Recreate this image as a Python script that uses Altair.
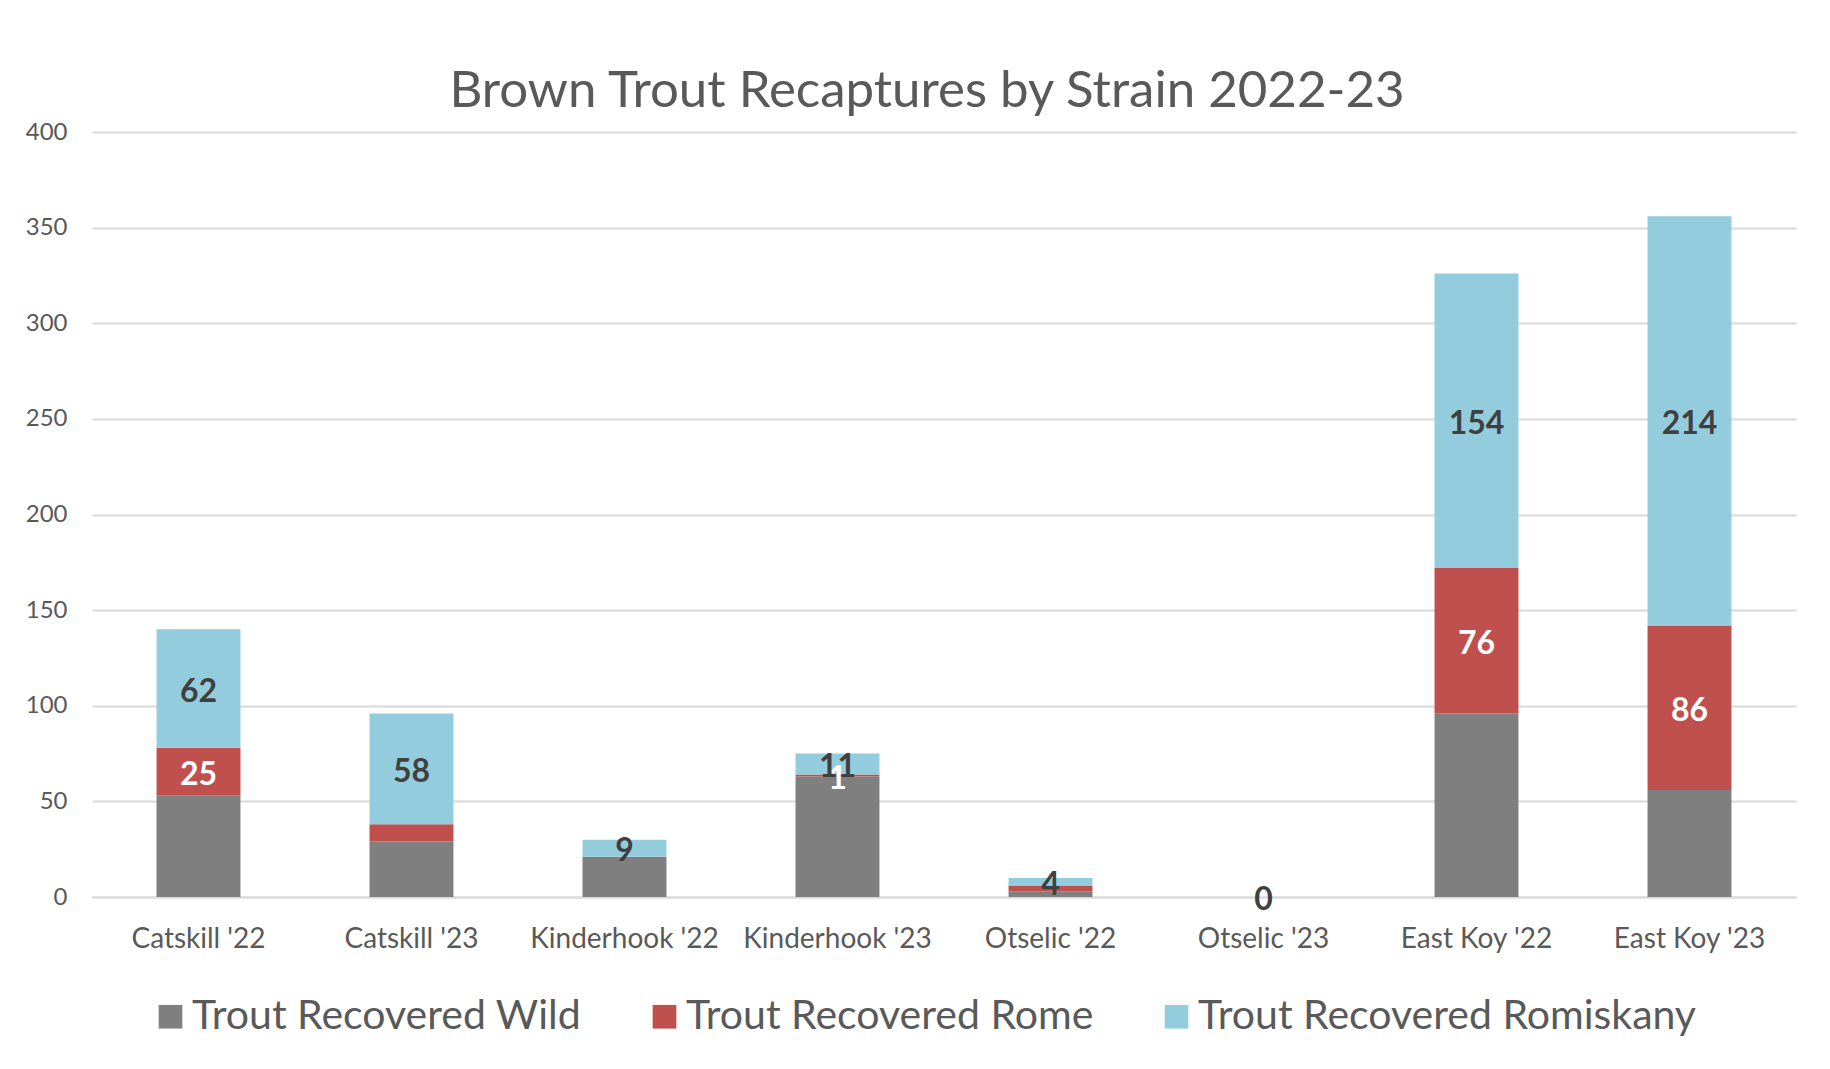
import altair as alt
import pandas as pd

categories = ["Catskill '22", "Catskill '23", "Kinderhook '22", "Kinderhook '23",
              "Otselic '22", "Otselic '23", "East Koy '22", "East Koy '23"]
wild = [53, 29, 21, 63, 3, 0, 96, 56]
rome = [25, 9, 0, 1, 3, 0, 76, 86]
romiskany = [62, 58, 9, 11, 4, 0, 154, 214]
wild_label_shown = [False] * 8
rome_label_shown = [True, False, False, True, False, False, True, True]
romiskany_label_shown = [True] * 8

series = ["Trout Recovered Wild", "Trout Recovered Rome", "Trout Recovered Romiskany"]
colors = ["#7f7f7f", "#c0504d", "#93cddd"]

rows = []
for s_idx, (name, vals, shown) in enumerate([
        (series[0], wild, wild_label_shown),
        (series[1], rome, rome_label_shown),
        (series[2], romiskany, romiskany_label_shown)]):
    for c, v, sh in zip(categories, vals, shown):
        rows.append({"category": c, "series": name, "idx": s_idx, "value": v, "show": sh})
df = pd.DataFrame(rows)

FONT = "Lato"
GREY_TXT = "#595959"

base = alt.Chart(df)

x_enc = alt.X("category:N", sort=categories,
              scale=alt.Scale(paddingInner=0.606, paddingOuter=0.303),
              axis=alt.Axis(title=None, labelAngle=0, labelFontSize=28, labelFont=FONT,
                            labelColor=GREY_TXT, ticks=False, domainColor="#d9d9d9",
                            domainWidth=2, labelPadding=28, grid=False,
                            labelLimit=400, labelOverlap=False))

bars = base.mark_bar().encode(
    x=x_enc,
    y=alt.Y("value:Q", stack="zero", scale=alt.Scale(domain=[0, 400], nice=False),
            axis=alt.Axis(title=None, values=[0, 50, 100, 150, 200, 250, 300, 350, 400],
                          labelFontSize=24, labelFont=FONT, labelColor=GREY_TXT,
                          labelPadding=25, ticks=False, domain=False,
                          gridColor="#d9d9d9", gridWidth=2)),
    color=alt.Color("series:N", scale=alt.Scale(domain=series, range=colors),
                    legend=alt.Legend(title=None, orient="none", direction="horizontal",
                                      legendX=58, legendY=864, symbolType="square",
                                      symbolSize=560, symbolStrokeWidth=0,
                                      labelFontSize=41, labelFont=FONT, labelColor=GREY_TXT,
                                      labelOffset=1, columnPadding=62, labelLimit=700)),
    order=alt.Order("idx:Q", sort="ascending"),
)

stacked = base.transform_stack(
    stack="value", groupby=["category"], as_=["y0", "y1"],
    sort=[alt.SortField("idx", order="ascending")]
).transform_calculate(mid="(datum.y0 + datum.y1) / 2").transform_filter("datum.show")

text_white = stacked.transform_filter("datum.idx < 2").mark_text(
    font=FONT, fontWeight="bold", fontSize=32, color="#ffffff", baseline="middle", dy=3
).encode(x=alt.X("category:N", sort=categories), y=alt.Y("mid:Q"), text="value:Q")

text_dark = stacked.transform_filter("datum.idx == 2").mark_text(
    font=FONT, fontWeight="bold", fontSize=32, color="#404040", baseline="middle", dy=3
).encode(x=alt.X("category:N", sort=categories), y=alt.Y("mid:Q"), text="value:Q")

chart = alt.layer(bars, text_white, text_dark).properties(
    width=1704, height=765,
    padding={"left": 84, "top": 124, "right": 26, "bottom": 150},
    autosize=alt.AutoSizeParams(type="none"),
    title=alt.TitleParams(text="Brown Trout Recaptures by Strain 2022-23", font=FONT,
                          fontSize=51, fontWeight="normal", color=GREY_TXT,
                          anchor="middle", dx=-17, offset=2),
).configure_view(stroke=None)

chart.save("out.html", embed_options={"renderer": "svg", "actions": False})
